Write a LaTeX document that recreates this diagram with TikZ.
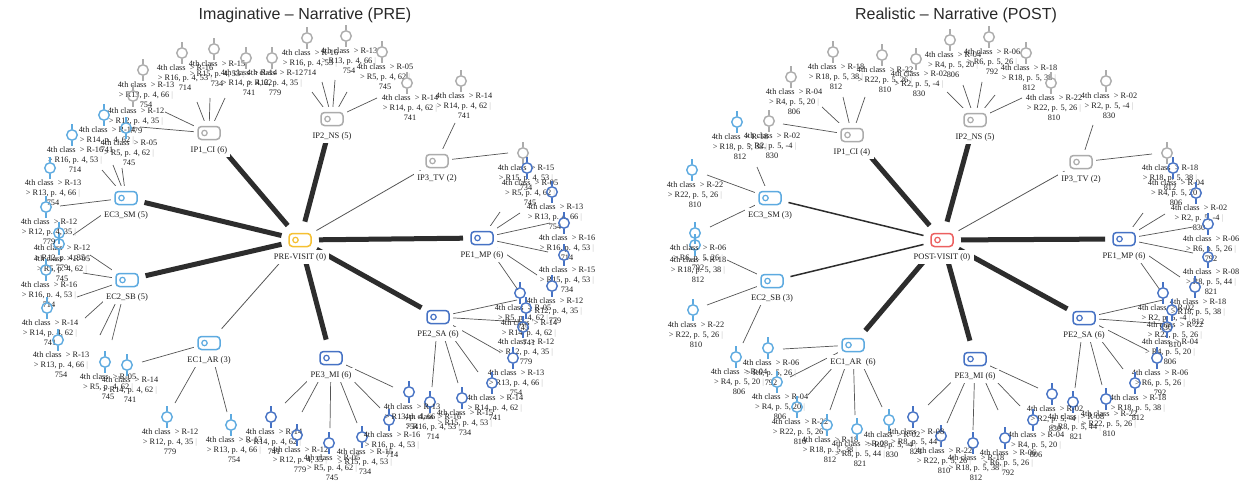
\documentclass[tikz,border=0pt]{standalone}
\usepackage{fontspec}
\setmainfont{Liberation Serif}
\newfontfamily\titlefont{Liberation Sans}
\usetikzlibrary{calc}
\definecolor{ipc}{RGB}{172,172,172}
\definecolor{ecc}{RGB}{93,170,224}
\definecolor{pec}{RGB}{70,114,196}
\definecolor{yel}{RGB}{245,192,50}
\definecolor{redc}{RGB}{236,96,96}
\definecolor{edgec}{RGB}{45,45,45}
\definecolor{edgec2}{RGB}{85,85,85}
\definecolor{txt}{RGB}{30,30,30}
\definecolor{barc}{RGB}{185,185,185}
\definecolor{titc}{RGB}{40,40,40}
\pgfdeclarelayer{bg}
\pgfdeclarelayer{paper}
\pgfdeclarelayer{occ}
\pgfsetlayers{paper,bg,occ,main}
\newcounter{lfc}
\newcommand{\lbl}[4]{4th class\ \ > R-#1\\> R#2, p. #3 \textcolor{barc}{|}\\#4}
\expandafter\def\csname K12\endcsname{\lbl{12}{12}{4, 35}{779}}
\expandafter\def\csname K13\endcsname{\lbl{13}{13}{4, 66}{754}}
\expandafter\def\csname K14\endcsname{\lbl{14}{14}{4, 62}{741}}
\expandafter\def\csname K15\endcsname{\lbl{15}{15}{4, 53}{734}}
\expandafter\def\csname K16\endcsname{\lbl{16}{16}{4, 53}{714}}
\expandafter\def\csname K05\endcsname{\lbl{05}{5}{4, 62}{745}}
\expandafter\def\csname K02\endcsname{\lbl{02}{2}{5, -4}{830}}
\expandafter\def\csname K04\endcsname{\lbl{04}{4}{5, 20}{806}}
\expandafter\def\csname K06\endcsname{\lbl{06}{6}{5, 26}{792}}
\expandafter\def\csname K08\endcsname{\lbl{08}{8}{5, 44}{821}}
\expandafter\def\csname K18\endcsname{\lbl{18}{18}{5, 38}{812}}
\expandafter\def\csname K22\endcsname{\lbl{22}{22}{5, 26}{810}}
\tikzset{
  catbox/.style={draw=#1, line width=1.5pt, rounded corners=3.5pt, minimum width=22pt, minimum height=13pt, inner sep=0pt, fill=white},
  catlbl/.style={font=\fontsize{8.5}{10}\selectfont, text=txt, inner sep=0pt},
  leafic/.style={circle, draw=#1, line width=1.4pt, minimum size=10.5pt, inner sep=0pt},
  leaflbl/.style={font=\fontsize{8.3}{9.8}\selectfont, align=center, text=txt, inner sep=0pt, anchor=north},
  thickedge/.style={line width=5pt, draw=edgec, shorten <=19pt, shorten >=19pt},
  midedge/.style={line width=1.5pt, draw=edgec, shorten <=19pt, shorten >=19pt},
  thinedge/.style={line width=0.8pt, draw=edgec2, shorten <=19pt, shorten >=19pt},
  leafedge/.style={line width=0.7pt, draw=edgec2},
  titl/.style={font=\titlefont\fontsize{16}{18}\selectfont, text=titc, inner sep=0pt}
}
\newcommand{\catnode}[5]{%
  \node[catbox=#4] (#1) at (#2,#3) {};
  \draw[#4, line width=1.2pt] ($(#1.center)+(-4.5,0)$) circle[radius=2.7pt];
  \node[catlbl] (#1-l) at (#2,#3+17) {#5};
  \begin{pgfonlayer}{occ}
  \fill[white] (#2-15,#3-12) rectangle (#2+15,#3+12);
  \fill[white] ($(#1-l.south west)+(-3,3)$) rectangle ($(#1-l.north east)+(3,-3)$);
  \end{pgfonlayer}
}
\newcommand{\lf}[7]{%
  \stepcounter{lfc}%
  \node[leafic=#2] (lf\arabic{lfc}) at (#3,#4) {};
  \draw[#2, line width=1.4pt] (lf\arabic{lfc}.north) -- ++(0,-5.5) (lf\arabic{lfc}.south) -- ++(0,5.5);
  \node[leaflbl] (lf\arabic{lfc}-l) at (#3+3,#4+11.5) {\csname K#5\endcsname};
  \coordinate (le\arabic{lfc}) at (#6,#7);
  \begin{pgfonlayer}{bg}\draw[leafedge] (#1.center) -- (le\arabic{lfc});\end{pgfonlayer}
}
\begin{document}
\begin{tikzpicture}[x=1pt,y=-1pt]
\begin{pgfonlayer}{paper}
\fill[white] (0,0) rectangle (1250,490);
\end{pgfonlayer}
\useasboundingbox (0,0) rectangle (1250,490);
\node[titl] (t1) at (305,15) {Imaginative – Narrative (PRE)};
\node[titl] (t2) at (956,15) {Realistic – Narrative (POST)};
% ================= PRE =================
\catnode{pre}{300}{240}{yel}{PRE-VISIT (0)}
\catnode{aIPa}{209}{133}{ipc}{IP1\_CI (6)}
\catnode{aIPb}{332}{119}{ipc}{IP2\_NS (5)}
\catnode{aIPc}{437}{161}{ipc}{IP3\_TV (2)}
\catnode{aPEa}{482}{238}{pec}{PE1\_MP (6)}
\catnode{aPEb}{438}{317}{pec}{PE2\_SA (6)}
\catnode{aPEc}{331}{358}{pec}{PE3\_MI (6)}
\catnode{aECa}{209}{343}{ecc}{EC1\_AR (3)}
\catnode{aECb}{127}{280}{ecc}{EC2\_SB (5)}
\catnode{aECc}{126}{198}{ecc}{EC3\_SM (5)}
\begin{pgfonlayer}{bg}
\draw[thickedge] (pre.center) -- (aIPa.center);
\draw[thickedge] (pre.center) -- (aIPb.center);
\draw[thinedge] (pre.center) -- (aIPc.center);
\draw[thickedge] (pre.center) -- (aPEa.center);
\draw[thickedge] (pre.center) -- (aPEb.center);
\draw[thickedge] (pre.center) -- (aPEc.center);
\draw[thinedge] (pre.center) -- (aECa.center);
\draw[thickedge] (pre.center) -- (aECb.center);
\draw[thickedge] (pre.center) -- (aECc.center);
\end{pgfonlayer}
% IP1
\lf{aIPa}{ipc}{182}{53}{16}{197}{102}
\lf{aIPa}{ipc}{214}{49}{15}{210}{98}
\lf{aIPa}{ipc}{246}{58}{14}{225}{98}
\lf{aIPa}{ipc}{143}{70}{13}{165}{112}
\lf{aIPa}{ipc}{133}{96}{12}{140}{127}
% IP2
\lf{aIPb}{ipc}{272}{58}{12}{312}{92}
\lf{aIPb}{ipc}{307}{38}{16}{322}{82}
\lf{aIPb}{ipc}{346}{36}{13}{335}{80}
\lf{aIPb}{ipc}{382}{52}{05}{347}{92}
\lf{aIPb}{ipc}{407}{83}{14}{377}{98}
% IP3
\lf{aIPc}{ipc}{461}{81}{14}{455}{123}
\lf{aIPc}{ipc}{523}{153}{15}{508}{153}
% PE1
\lf{aPEa}{pec}{527}{168}{05}{500}{212}
\lf{aPEa}{pec}{552}{192}{13}{520}{213}
\lf{aPEa}{pec}{564}{223}{16}{550}{223}
\lf{aPEa}{pec}{564}{255}{15}{548}{252}
\lf{aPEa}{pec}{552}{286}{12}{537}{275}
\lf{aPEa}{pec}{520}{293}{05}{518}{290}
% PE2
\lf{aPEb}{pec}{526}{308}{14}{517}{300}
\lf{aPEb}{pec}{523}{327}{12}{522}{322}
\lf{aPEb}{pec}{513}{358}{13}{500}{352}
\lf{aPEb}{pec}{492}{383}{14}{478}{372}
\lf{aPEb}{pec}{462}{398}{15}{458}{383}
\lf{aPEb}{pec}{430}{402}{16}{432}{387}
% PE3
\lf{aPEc}{pec}{271}{417}{14}{285}{403}
\lf{aPEc}{pec}{297}{435}{12}{302}{412}
\lf{aPEc}{pec}{329}{443}{05}{330}{428}
\lf{aPEc}{pec}{362}{437}{15}{357}{423}
\lf{aPEc}{pec}{389}{420}{16}{380}{408}
\lf{aPEc}{pec}{409}{392}{13}{393}{387}
% EC1
\lf{aECa}{ecc}{127}{365}{14}{142}{362}
\lf{aECa}{ecc}{167}{417}{12}{175}{403}
\lf{aECa}{ecc}{231}{425}{13}{227}{412}
% EC2
\lf{aECb}{ecc}{59}{233}{12}{90}{255}
\lf{aECb}{ecc}{59}{244}{05}{83}{273}
\lf{aECb}{ecc}{46}{270}{16}{77}{297}
\lf{aECb}{ecc}{47}{308}{14}{85}{318}
\lf{aECb}{ecc}{58}{340}{13}{100}{335}
\lf{aECb}{ecc}{105}{362}{05}{112}{340}
% EC3
\lf{aECc}{ecc}{104}{115}{14}{113}{165}
\lf{aECc}{ecc}{72}{135}{16}{102}{170}
\lf{aECc}{ecc}{126}{128}{05}{122}{168}
\lf{aECc}{ecc}{50}{168}{13}{60}{206}
\lf{aECc}{ecc}{46}{207}{12}{73}{235}
% ================= POST =================
\catnode{post}{942}{240}{redc}{POST-VISIT (0)}
\catnode{bIPa}{852}{135}{ipc}{IP1\_CI (4)}
\catnode{bIPb}{975}{120}{ipc}{IP2\_NS (5)}
\catnode{bIPc}{1081}{162}{ipc}{IP3\_TV (2)}
\catnode{bPEa}{1124}{239}{pec}{PE1\_MP (6)}
\catnode{bPEb}{1084}{318}{pec}{PE2\_SA (6)}
\catnode{bPEc}{975}{359}{pec}{PE3\_MI (6)}
\catnode{bECa}{853}{345}{ecc}{EC1\_AR\ \ (6)}
\catnode{bECb}{772}{281}{ecc}{EC2\_SB (3)}
\catnode{bECc}{770}{198}{ecc}{EC3\_SM (3)}
\begin{pgfonlayer}{bg}
\draw[thickedge] (post.center) -- (bIPa.center);
\draw[thickedge] (post.center) -- (bIPb.center);
\draw[thinedge] (post.center) -- (bIPc.center);
\draw[thickedge] (post.center) -- (bPEa.center);
\draw[thickedge] (post.center) -- (bPEb.center);
\draw[thickedge] (post.center) -- (bPEc.center);
\draw[thickedge] (post.center) -- (bECa.center);
\draw[midedge] (post.center) -- (bECb.center);
\draw[midedge] (post.center) -- (bECc.center);
\end{pgfonlayer}
% IP1
\lf{bIPa}{ipc}{791}{77}{04}{822}{107}
\lf{bIPa}{ipc}{833}{52}{18}{843}{97}
\lf{bIPa}{ipc}{882}{55}{22}{865}{97}
\lf{bIPa}{ipc}{769}{121}{02}{783}{124}
% IP2
\lf{bIPb}{ipc}{916}{59}{02}{947}{92}
\lf{bIPb}{ipc}{950}{40}{04}{963}{85}
\lf{bIPb}{ipc}{989}{37}{06}{982}{82}
\lf{bIPb}{ipc}{1026}{53}{18}{995}{95}
\lf{bIPb}{ipc}{1051}{83}{22}{1022}{98}
% IP3
\lf{bIPc}{ipc}{1106}{81}{02}{1093}{125}
\lf{bIPc}{ipc}{1167}{153}{18}{1152}{154}
% PE1
\lf{bPEa}{pec}{1173}{168}{04}{1143}{213}
\lf{bPEa}{pec}{1196}{193}{02}{1165}{214}
\lf{bPEa}{pec}{1208}{224}{06}{1193}{227}
\lf{bPEa}{pec}{1208}{257}{08}{1193}{253}
\lf{bPEa}{pec}{1195}{287}{18}{1180}{277}
\lf{bPEa}{pec}{1163}{293}{02}{1160}{290}
% PE2
\lf{bPEb}{pec}{1172}{310}{22}{1163}{300}
\lf{bPEb}{pec}{1167}{327}{04}{1165}{324}
\lf{bPEb}{pec}{1157}{358}{06}{1147}{350}
\lf{bPEb}{pec}{1135}{383}{18}{1123}{369}
\lf{bPEb}{pec}{1106}{399}{22}{1102}{385}
\lf{bPEb}{pec}{1073}{402}{08}{1075}{388}
% PE3
\lf{bPEc}{pec}{1052}{394}{02}{1038}{388}
\lf{bPEc}{pec}{1033}{420}{04}{1020}{406}
\lf{bPEc}{pec}{1005}{438}{06}{998}{410}
\lf{bPEc}{pec}{973}{443}{18}{973}{430}
\lf{bPEc}{pec}{941}{436}{22}{947}{423}
\lf{bPEc}{pec}{913}{417}{08}{928}{405}
% EC1
\lf{bECa}{ecc}{768}{348}{06}{783}{349}
\lf{bECa}{ecc}{777}{382}{04}{790}{377}
\lf{bECa}{ecc}{797}{407}{22}{808}{395}
\lf{bECa}{ecc}{827}{425}{18}{830}{410}
\lf{bECa}{ecc}{857}{429}{08}{855}{415}
\lf{bECa}{ecc}{889}{420}{02}{882}{407}
% EC2
\lf{bECb}{ecc}{695}{245}{18}{727}{260}
\lf{bECb}{ecc}{693}{310}{22}{707}{305}
\lf{bECb}{ecc}{736}{357}{04}{743}{343}
% EC3
\lf{bECc}{ecc}{737}{122}{18}{757}{167}
\lf{bECc}{ecc}{692}{170}{22}{707}{175}
\lf{bECc}{ecc}{695}{233}{06}{710}{227}
\end{tikzpicture}
\end{document}
